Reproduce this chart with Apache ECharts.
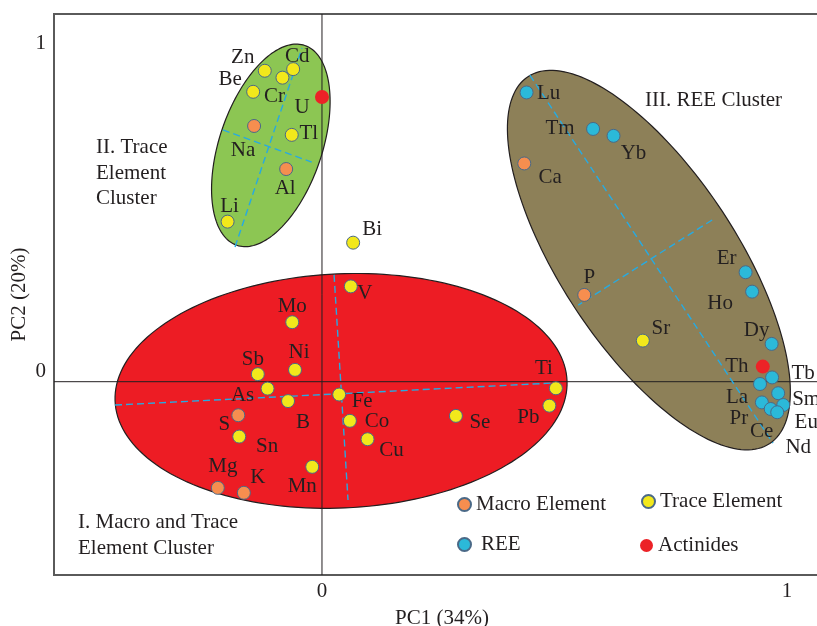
<!DOCTYPE html>
<html>
<head>
<meta charset="utf-8">
<script src="https://cdn.jsdelivr.net/npm/echarts@6/dist/echarts.min.js"></script>
<style>
html,body{margin:0;padding:0;background:#fff;}
#chart{width:817px;height:626px;}
</style>
</head>
<body>
<div id="chart"></div>
<script>
// ---------- data (PC1, PC2 loadings) ----------
const macroNames = ['Na','Al','Ca','P','S','Mg','K'];
const macroX = [-0.146,-0.077,0.435,0.564,-0.180,-0.224,-0.168];
const macroY = [0.778,0.647,0.664,0.264,-0.102,-0.323,-0.338];

const traceNames = ['Zn','Cd','Cr','Be','Tl','Li','Bi','V','Mo','Ni','Sb','As','B','Sn','Mn','Fe','Co','Cu','Se','Ti','Pb','Sr'];
const traceX = [-0.123,-0.062,-0.085,-0.148,-0.065,-0.203,0.067,0.062,-0.064,-0.058,-0.138,-0.117,-0.073,-0.178,-0.021,0.037,0.060,0.098,0.288,0.503,0.489,0.690];
const traceY = [0.946,0.951,0.925,0.882,0.751,0.487,0.423,0.290,0.181,0.036,0.023,-0.021,-0.059,-0.167,-0.259,-0.039,-0.119,-0.175,-0.104,-0.020,-0.073,0.125];

const reeNames = ['Lu','Tm','Yb','Er','Ho','Dy','Tb','La','Sm','Pr','Eu','Ce','Nd'];
const reeX = [0.440,0.583,0.627,0.911,0.925,0.967,0.968,0.942,0.981,0.946,0.992,0.965,0.979];
const reeY = [0.880,0.769,0.748,0.333,0.274,0.115,0.013,-0.007,-0.035,-0.063,-0.071,-0.083,-0.093];

const actNames = ['U','Th'];
const actX = [0.000,0.948];
const actY = [0.866,0.046];

const seriesNames = ['Macro Element','Trace Element','REE','Actinides'];
const xTickValues = [0, 1];
const yTickValues = [0, 1];
const xAxisTitle = 'PC1 (34%)';
const yAxisTitle = 'PC2 (20%)';
const clusterTitles = ['I. Macro and Trace\nElement Cluster','II. Trace\nElement\nCluster','III. REE Cluster'];

// cluster ellipses: centre and two conjugate semi-axis vectors (data units)
const ellipseCenters = [[0.041,-0.028],[-0.110,0.719],[0.703,0.370]];
const ellipseAxisA = [[0.486,0.030],[0.073,0.304],[0.260,-0.558]];
const ellipseAxisB = [[0.009,-0.356],[0.1045,-0.050],[0.158,0.148]];
// dashed principal axes drawn inside the ellipses (data units)
const axisSegments = [
  [[-0.445,-0.071],[0.497,-0.004]],
  [[0.026,0.325],[0.056,-0.360]],
  [[-0.187,0.410],[-0.043,1.015]],
  [[-0.213,0.766],[-0.022,0.668]],
  [[0.447,0.933],[0.970,-0.187]],
  [[0.839,0.492],[0.551,0.233]]
];

// ---------- layout / style ----------
const X_MIN = -0.5763, X_MAX = 1.0925, Y_MIN = -0.5881, Y_MAX = 1.1187;
const FONT = '"Liberation Serif", "Times New Roman", serif';
const TXT = '#231f20';
const ellipseColors = ['#ed1c24','#8cc653','#8d8058'];
const pointColors = ['#f68e4f','#f2e81b','#2bb9d9','#ec2227'];
const labelOffsets = {
  Na:[-11,25], Al:[-1,19], Ca:[26,14], P:[5,-17], S:[-14,9], Mg:[5,-21], K:[14,-15],
  Zn:[-22,-13], Cd:[4,-13], Cr:[-8,19], Be:[-23,-12], Tl:[17,-1], Li:[2,-15], Bi:[19,-13],
  V:[14,7], Mo:[0,-16], Ni:[4,-17], Sb:[-5,-15], As:[-25,7], B:[15,21], Sn:[28,10],
  Mn:[-10,20], Fe:[23,7], Co:[27,1], Cu:[24,11], Se:[24,7], Ti:[-12,-20], Pb:[-21,12], Sr:[18,-12],
  Lu:[22,1], Tm:[-33,0], Yb:[20,18], Er:[-19,-14], Ho:[-32,12], Dy:[-15,-13], Tb:[31,-4],
  La:[-23,13], Sm:[28,6], Pr:[-23,16], Eu:[23,17], Ce:[-9,23], Nd:[21,35],
  U:[-20,10], Th:[-26,0]
};

function buildPoints(names, xs, ys) {
  return names.map((n, i) => ({
    name: n,
    value: [xs[i], ys[i]],
    label: { offset: labelOffsets[n] || [0, 0] }
  }));
}

function scatterSeries(name, names, xs, ys, color, bordered, size) {
  return {
    name: name,
    type: 'scatter',
    z: 5,
    symbol: 'circle',
    symbolSize: size,
    itemStyle: {
      color: color,
      borderColor: bordered ? '#4a6987' : color,
      borderWidth: bordered ? 1 : 0,
      opacity: 1
    },
    label: {
      show: true,
      position: 'inside',
      formatter: p => p.name,
      color: TXT,
      fontFamily: FONT,
      fontSize: 21
    },
    emphasis: { disabled: true },
    data: buildPoints(names, xs, ys)
  };
}

const chart = echarts.init(document.getElementById('chart'), null, { renderer: 'canvas' });

const series = [];
// ellipses
series.push({
  type: 'custom',
  z: 1,
  silent: true,
  clip: false,
  renderItem: function (params, api) {
    const i = params.dataIndex;
    const c = ellipseCenters[i], A = ellipseAxisA[i], B = ellipseAxisB[i];
    const pts = [];
    const N = 180;
    for (let k = 0; k < N; k++) {
      const t = 2 * Math.PI * k / N;
      pts.push(api.coord([
        c[0] + A[0] * Math.cos(t) + B[0] * Math.sin(t),
        c[1] + A[1] * Math.cos(t) + B[1] * Math.sin(t)
      ]));
    }
    return {
      type: 'polygon',
      shape: { points: pts },
      style: { fill: ellipseColors[i], stroke: '#231f20', lineWidth: 1.2 }
    };
  },
  data: ellipseCenters
});
// zero lines
series.push({
  type: 'line', z: 2, silent: true, symbol: 'none',
  lineStyle: { color: '#231f20', width: 1 },
  data: [[0, Y_MIN], [0, Y_MAX]]
});
series.push({
  type: 'line', z: 2, silent: true, symbol: 'none',
  lineStyle: { color: '#231f20', width: 1 },
  data: [[X_MIN, 0], [X_MAX, 0]]
});
// dashed axes of clusters
axisSegments.forEach(seg => {
  series.push({
    type: 'line', z: 3, silent: true, symbol: 'none',
    lineStyle: { color: '#27aae1', width: 1.4, type: [7, 4] },
    data: seg
  });
});
// points
series.push(scatterSeries(seriesNames[0], macroNames, macroX, macroY, pointColors[0], true, 13));
series.push(scatterSeries(seriesNames[1], traceNames, traceX, traceY, pointColors[1], true, 13));
series.push(scatterSeries(seriesNames[2], reeNames, reeX, reeY, pointColors[2], true, 13));
series.push(scatterSeries(seriesNames[3], actNames, actX, actY, pointColors[3], false, 14));

function legendAt(name, left, top, extraPad) {
  return {
    data: [name],
    left: left, top: top,
    icon: 'circle',
    itemWidth: 13, itemHeight: 13,
    padding: 0,
    selectedMode: false,
    textStyle: { fontFamily: FONT, fontSize: 21, color: TXT, padding: [3, 0, 0, extraPad] }
  };
}

const option = {
  animation: false,
  backgroundColor: '#ffffff',
  grid: {
    left: 54, right: -13, top: 14, bottom: 51,
    containLabel: false,
    outerBoundsMode: 'none',
    show: true, borderColor: '#5a5a5a', borderWidth: 2, backgroundColor: 'transparent'
  },
  xAxis: {
    type: 'value', min: X_MIN, max: X_MAX,
    name: xAxisTitle, nameLocation: 'middle', nameGap: 33, nameMoveOverlap: false,
    nameTextStyle: { fontFamily: FONT, fontSize: 21, color: TXT },
    axisLine: { show: false }, axisTick: { show: false }, splitLine: { show: false },
    axisLabel: { customValues: xTickValues, fontFamily: FONT, fontSize: 21, color: TXT, margin: 6 }
  },
  yAxis: {
    type: 'value', min: Y_MIN, max: Y_MAX,
    name: yAxisTitle, nameLocation: 'middle', nameGap: 24, nameMoveOverlap: false,
    nameTextStyle: { fontFamily: FONT, fontSize: 21, color: TXT },
    axisLine: { show: false }, axisTick: { show: false }, splitLine: { show: false },
    axisLabel: { customValues: yTickValues, fontFamily: FONT, fontSize: 21, color: TXT, margin: 8,
                 verticalAlign: 'bottom', lineHeight: 20 }
  },
  legend: [
    legendAt(seriesNames[0], 457, 494, 0),
    legendAt(seriesNames[1], 641, 491, 0),
    legendAt(seriesNames[2], 457, 534, 5),
    legendAt(seriesNames[3], 640, 535, 0)
  ],
  graphic: [
    { type: 'text', left: 78, top: 509, silent: true,
      style: { text: clusterTitles[0], font: '21px ' + FONT, fill: TXT, lineHeight: 26 } },
    { type: 'text', left: 96, top: 135, silent: true,
      style: { text: clusterTitles[1], font: '21px ' + FONT, fill: TXT, lineHeight: 25.5 } },
    { type: 'text', left: 645, top: 90, silent: true,
      style: { text: clusterTitles[2], font: '21px ' + FONT, fill: TXT } }
  ],
  series: series
};
chart.setOption(option);
</script>
</body>
</html>
